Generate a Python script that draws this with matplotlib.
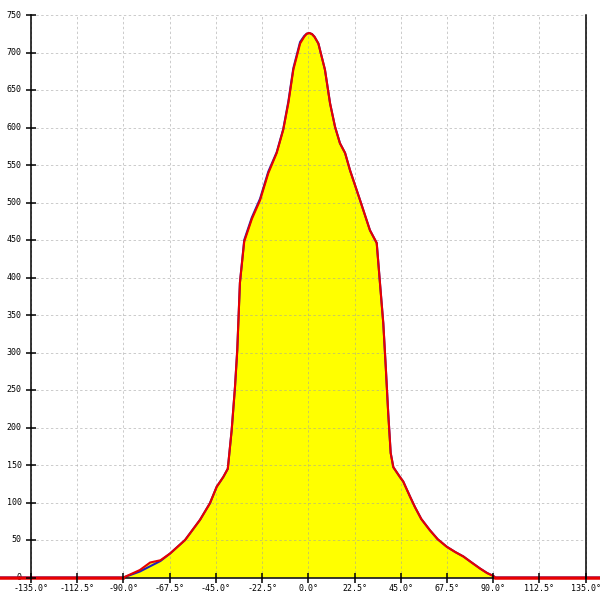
import matplotlib
matplotlib.use("Agg")
import matplotlib.pyplot as plt
import numpy as np

# angle [deg] and count for the two outlines
angles = [-150, -90.0, -82.0, -77.0, -72.0, -67.3, -60.0, -52.7, -47.9, -44.6, -41.4,
          -39.2, -37.3, -35.7, -34.6, -33.3, -31.2, -27.5, -23.5, -19.5, -15.4, -12.2,
          -9.7, -7.3, -4.0, -2.0, -0.8, 0.5, 1.8, 3.0, 4.9, 8.1, 10.6, 13.0, 15.4, 17.9, 20.3,
          25.2, 30.0, 33.3, 34.9, 36.5, 37.7, 38.9, 40.1, 41.4, 44.6, 46.2, 49.5,
          51.9, 55.0, 59.2, 63.0, 67.4, 71.5, 75.5, 79.5, 83.6, 87.0, 90.1, 91.0, 145]
red_vals = [0, 0, 10, 20, 23, 32, 50, 77, 99, 121, 134,
            145, 197, 254, 303, 393, 448, 478, 503, 539, 566, 597,
            633, 677, 712, 721, 725, 726, 724.5, 721, 712, 677, 632, 601, 579, 566, 543,
            503, 463, 446, 392, 339, 281, 219, 166, 147, 134, 128, 108,
            94, 78, 63, 51, 41, 34, 28, 20, 12, 6, 2, 0, 0]
blue_vals = [0, 0, 8, 15, 22, 32, 50, 77, 99, 121, 134,
             145, 197, 254, 303, 393, 450, 480, 505, 541, 567, 598,
             635, 679, 714, 722, 725, 726, 724.5, 721, 712, 677, 632, 601, 579, 566, 543,
             503, 463, 446, 392, 339, 281, 219, 166, 147, 134, 128, 108,
             94, 78, 63, 51, 41, 34, 28, 20, 12, 6, 2, 0, 0]

x_ticks = [-135.0, -112.5, -90.0, -67.5, -45.0, -22.5, 0.0, 22.5, 45.0, 67.5, 90.0, 112.5, 135.0]
y_ticks = [0, 50, 100, 150, 200, 250, 300, 350, 400, 450, 500, 550, 600, 650, 700, 750]

fig = plt.figure(figsize=(6, 6), dpi=100)
ax = fig.add_axes([0, 0, 1, 1])
ax.set_xlim(-150.1, 142.0)
ax.set_ylim(-30.0, 770.0)
ax.axis("off")

# fill under the curve
ax.fill_between(angles, red_vals, color="#ffff00", lw=0, zorder=1)

# grid
for xt in x_ticks:
    ax.plot([xt, xt], [0, 750], color="#a0a0a0", alpha=0.55, lw=0.7,
            dashes=(2.5, 2.5), zorder=2)
for yt in y_ticks[1:]:
    ax.plot([-135, 135], [yt, yt], color="#a0a0a0", alpha=0.55, lw=0.7,
            dashes=(2.5, 2.5), zorder=2)

ax.plot(angles, blue_vals, color="#2020c0", lw=1.5, zorder=3)
ax.plot(angles, red_vals, color="#e80000", lw=1.5, zorder=4)

# axes lines
ax.plot([-135, -135], [0, 750], color="black", lw=1.1, zorder=5)
ax.plot([135, 135], [0, 750], color="black", lw=1.1, zorder=5)
ax.plot([-150.1, 142.0], [0, 0], color="black", lw=1.1, zorder=3.5)
ax.plot(angles[:2], [0, 0], color="#e80000", lw=1.8, zorder=4)
ax.plot(angles[-2:], [0, 0], color="#e80000", lw=1.8, zorder=4)

# tick marks
ax.plot(x_ticks, [0] * len(x_ticks), ls="none", marker="|", ms=7.5, mew=1.1,
        color="black", zorder=5)
ax.plot([-135] * len(y_ticks), y_ticks, ls="none", marker="_", ms=7.5, mew=1.1,
        color="black", zorder=5)

# tick labels
for xt in x_ticks:
    ax.text(xt, -9, f"{xt:.1f}\u00b0", ha="center", va="top", fontsize=6,
            family="DejaVu Sans Mono")
for yt in y_ticks:
    ax.text(-139.5, yt, f"{yt}", ha="right", va="center", fontsize=6,
            family="DejaVu Sans Mono")

fig.savefig("out.png", dpi=100)
